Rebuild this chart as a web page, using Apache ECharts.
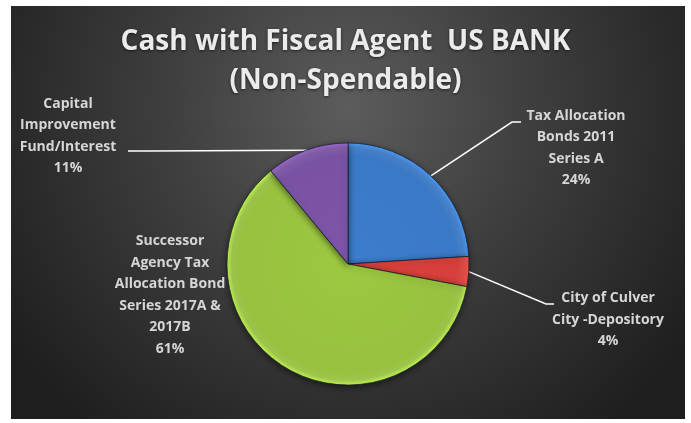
<!DOCTYPE html>
<html><head><meta charset="utf-8">
<script src="https://cdn.jsdelivr.net/npm/echarts@6/dist/echarts.min.js"></script>
<style>html,body{margin:0;padding:0;background:#fff}#c{width:691px;height:423px}</style>
</head><body><div id="c"></div>
<script>
const categories = [
  "Tax Allocation\nBonds 2011\nSeries A",
  "City of Culver\nCity -Depository",
  "Successor\nAgency Tax\nAllocation Bond\nSeries 2017A &\n2017B",
  "Capital\nImprovement\nFund/Interest"
];
const values = [24, 4, 61, 11];
const sliceColors = ["#3a79c6", "#d63f3a", "#97c13f", "#7a52a3"];
const titleText = "Cash with Fiscal Agent  US BANK\n(Non-Spendable)";

// label placement (layout, not data)
const labelCenters = [[576, 148], [608, 320], [170, 295], [68, 136]];
const lineEnds = [[[512, 122], [521, 122]], [[546, 304], [554, 304]], null, [[150, 151], [128, 151]]];
const pieCenter = [348, 264], pieRadius = 121;

const chart = echarts.init(document.getElementById('c'), null, {renderer: 'canvas'});
chart.setOption({
  backgroundColor: '#ffffff',
  animation: false,
  graphic: [{
    type: 'rect', z: -10, silent: true,
    shape: {x: 11, y: 6, width: 674, height: 413},
    style: {fill: new echarts.graphic.RadialGradient(0.5, 0.25, 1.0, [
      {offset: 0, color: '#5c5c5c'},
      {offset: 0.45, color: '#3e3e3e'},
      {offset: 1, color: '#1e1e1e'}
    ])}
  }],
  title: {
    text: titleText, left: 'center', top: 23, padding: 0,
    textStyle: {fontFamily: 'Open Sans', fontWeight: 'bold', fontSize: 28, lineHeight: 39,
      color: '#ebebeb', textShadowColor: 'rgba(0,0,0,0.6)', textShadowBlur: 3, textShadowOffsetY: 1}
  },
  series: [{
    type: 'pie',
    center: pieCenter, radius: [0, pieRadius],
    startAngle: 90, clockwise: true,
    data: categories.map((n, i) => ({
      name: n, value: values[i],
      itemStyle: {color: new echarts.graphic.RadialGradient(pieCenter[0], pieCenter[1], pieRadius, [
        {offset: 0, color: echarts.color.lift(sliceColors[i], -0.04)},
        {offset: 0.9, color: sliceColors[i]},
        {offset: 0.96, color: echarts.color.lift(sliceColors[i], 0.08)},
        {offset: 1, color: echarts.color.lift(sliceColors[i], -0.3)}
      ], true)},
      labelLine: {show: lineEnds[i] !== null}
    })),
    itemStyle: {borderColor: 'rgba(20,30,40,0.7)', borderWidth: 1,
      shadowColor: 'rgba(0,0,0,0.5)', shadowBlur: 6, shadowOffsetY: 2},
    label: {
      show: true, position: 'outside',
      formatter: '{b}\n{d}%',
      fontFamily: 'Open Sans', fontWeight: 'bold', fontSize: 14, lineHeight: 21.5,
      color: '#d6d6d6', align: 'center'
    },
    labelLine: {lineStyle: {color: '#ffffff', width: 1.5}, smooth: false},
    labelLayout: function (p) {
      const c = labelCenters[p.dataIndex];
      const out = {x: c[0], y: c[1], align: 'center', verticalAlign: 'middle'};
      const e = lineEnds[p.dataIndex];
      if (e && p.labelLinePoints) {
        out.labelLinePoints = [p.labelLinePoints[0], e[0], e[1]];
      }
      return out;
    }
  }]
});
</script></body></html>
